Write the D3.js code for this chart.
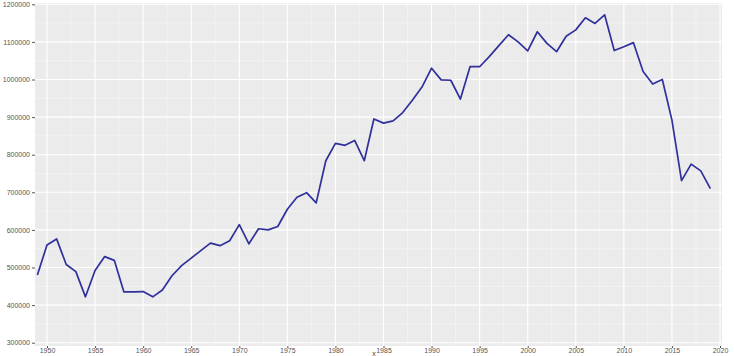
<!DOCTYPE html>
<html>

<head>
  <meta charset="UTF-8">
  <title>Document</title>
  <style>
    body { margin: 0; background: #fff; }
    svg { display: block; }
    text { font-family: "Liberation Sans", Arial, sans-serif; }
  </style>
</head>

<body>
  <script src="https://cdn.jsdelivr.net/npm/d3@7"></script>
  <script>
    const width = 734,
      height = 356

    // data
    const years = d3.range(1949, 2020)
    const values = [
      480000, 560000, 576000, 508000, 489000, 422000, 492000, 529000, 519000, 435000,
      435000, 436000, 422000, 440000, 478000, 505000, 525000, 545000, 565000, 558000,
      571000, 614000, 563000, 603000, 600000, 609000, 655000, 687000, 699000, 672000,
      784000, 830000, 825000, 838000, 784000, 895000, 884000, 890000, 912000, 945000,
      980000, 1030000, 999000, 998000, 948000, 1034000, 1034000, 1061000, 1090000, 1119000,
      1100000, 1076000, 1127000, 1096000, 1074000, 1115000, 1132000, 1164000, 1149000, 1172000,
      1077000, 1087000, 1098000, 1021000, 988000, 1000000, 892000, 731000, 775000, 757000,
      710000
    ]
    const xTicks = d3.range(1950, 2021, 5)
    const yTicks = d3.range(300000, 1200001, 100000)

    const panel = { left: 35, right: 722, top: 3, bottom: 346 }

    const svg = d3.select('body')
      .append('svg')
      .attr('width', width)
      .attr('height', height)

    const xScale = d3.scaleLinear()
      .domain([1950, 2020])
      .range([47, 720])

    const yScale = d3.scaleLinear()
      .domain([300000, 1200000])
      .range([342.7, 4.3])

    svg.append('rect')
      .attr('x', panel.left)
      .attr('y', panel.top)
      .attr('width', panel.right - panel.left)
      .attr('height', panel.bottom - panel.top)
      .attr('fill', '#EBEBEB')

    // minor grid
    const xMinor = d3.range(1947.5, 2021, 5)
    const yMinor = d3.range(250000, 1250001, 100000)
    svg.append('g').selectAll('line')
      .data(xMinor.filter(d => xScale(d) > panel.left && xScale(d) < panel.right))
      .enter().append('line')
      .attr('x1', d => xScale(d)).attr('x2', d => xScale(d))
      .attr('y1', panel.top).attr('y2', panel.bottom)
      .attr('stroke', '#F4F4F4').attr('stroke-width', 0.8)
    svg.append('g').selectAll('line')
      .data(yMinor.filter(d => yScale(d) > panel.top && yScale(d) < panel.bottom))
      .enter().append('line')
      .attr('y1', d => yScale(d)).attr('y2', d => yScale(d))
      .attr('x1', panel.left).attr('x2', panel.right)
      .attr('stroke', '#F4F4F4').attr('stroke-width', 0.8)

    // major grid
    svg.append('g').selectAll('line')
      .data(xTicks)
      .enter().append('line')
      .attr('x1', d => xScale(d)).attr('x2', d => xScale(d))
      .attr('y1', panel.top).attr('y2', panel.bottom)
      .attr('stroke', '#FFFFFF').attr('stroke-width', 1.1)
    svg.append('g').selectAll('line')
      .data(yTicks)
      .enter().append('line')
      .attr('y1', d => yScale(d)).attr('y2', d => yScale(d))
      .attr('x1', panel.left).attr('x2', panel.right)
      .attr('stroke', '#FFFFFF').attr('stroke-width', 1.1)

    // axes
    const xAxis = d3.axisBottom(xScale)
      .tickValues(xTicks)
      .tickFormat(d3.format('d'))
      .tickSize(2)
      .tickPadding(0.5)
    svg.append('g')
      .attr('transform', `translate(0, ${panel.bottom})`)
      .call(xAxis)

    const yAxis = d3.axisLeft(yScale)
      .tickValues(yTicks)
      .tickFormat(d3.format('d'))
      .tickSize(3)
      .tickPadding(2)
    svg.append('g')
      .attr('transform', `translate(${panel.left}, 0)`)
      .call(yAxis)

    svg.selectAll('.domain').remove()
    svg.selectAll('.tick line').attr('stroke', '#555')
    svg.selectAll('.tick text')
      .attr('fill', '#555')
      .style('font-size', '7px')
      .style('font-family', '"Liberation Sans", Arial, sans-serif')

    // axis title (mostly cut off in the reference)
    svg.append('text')
      .attr('x', 374)
      .attr('y', 356)
      .attr('text-anchor', 'middle')
      .attr('fill', '#444')
      .style('font-size', '7px')
      .text('x')

    // line
    const line = d3.line()
      .x((d, i) => xScale(years[i]))
      .y(d => yScale(d))

    svg.append('path')
      .datum(values)
      .attr('d', line)
      .attr('fill', 'none')
      .attr('stroke', '#30309C')
      .attr('stroke-width', 1.7)
      .attr('stroke-linejoin', 'round')
  </script>
</body>

</html>
